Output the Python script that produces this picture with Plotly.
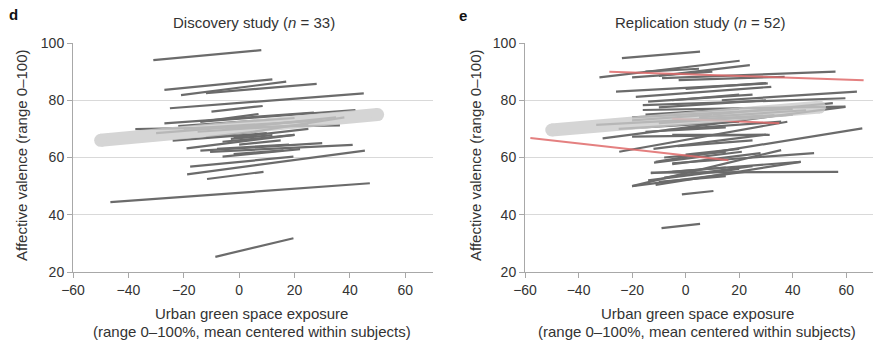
import plotly.graph_objects as go

# ---- Data (x0, y0, x1, y1) per subject regression line ----
disc_x0 = [-31, -27, -21, -12, -25, -10, -14, -27, -14, -37.5, -30, -24, -19, -6, -3, -14, -10.5,
           -6, -2, -17.7, -18.8, -11.6, -46.5, -8.6, -20, -5, -15, 0, -8, -2, -22, 5, -12]
disc_y0 = [94, 83.6, 81.8, 82.5, 77.2, 76, 72.5, 71.9, 72.5, 69.9, 68.5, 65.9, 63.2, 65.5, 66.5, 62.4, 62,
           60.3, 61.2, 56.8, 54.1, 52.5, 44.4, 25.3, 70, 70, 69, 64.5, 63, 67, 71, 69, 67]
disc_x1 = [8, 12, 17, 28, 45, 8.5, 7, 27, 42, 36.4, 29, 10, 20, 20, 12, 30, 41,
           22, 16, 19.6, 45.4, 8.8, 47.2, 19.6, 30, 35, 25, 15, 18, 25, 20, 38, 5]
disc_y1 = [97.5, 87.3, 86.5, 85.7, 82.4, 78, 75.2, 75.7, 76.6, 71.2, 73.1, 68.5, 67.9, 67.9, 67.8, 65, 64.4,
           62.9, 62.5, 60.3, 62.4, 55, 51, 31.8, 73, 74, 71.5, 66, 64.5, 70, 73.8, 74, 69]
disc_mean = [-50, 66, 50, 75]

rep_x0 = [-23.8, -32.2, -10, -8.8, -2.6, -20, -26, -18.6, 13.5, -16, -16, -14, -10, -15, -31, -11.2, -24.8,
          -20, -20, -33.4, -7.5, -5, -5, -13, -20, -13, -20, -11.2, -5, -11.8, -1.4, -9, -14, -8, -5,
          -12, -25, -10, 5, -5, -20, -3, 0, -8, 0, -15, 10, -10, -15]
rep_y0 = [94.7, 88, 88.5, 87.7, 87, 88, 83, 81.2, 80, 78.3, 76.6, 79.5, 77.5, 75, 66.7, 58.5, 62,
          74, 67.3, 71.4, 69.6, 67.9, 58, 54.5, 50, 54.7, 50, 50.4, 57.7, 58.2, 47.1, 35.3, 52, 53, 55,
          63, 70, 72, 74, 80, 73, 64, 61, 60, 84, 90, 75, 51.5, 69]
rep_x1 = [5.4, 20.2, 24, 56, 37, 10, 30.7, 32, 64, 59.7, 59.7, 25, 30, 20, 59.7, 66, 38,
          40, 31.4, 33.2, 35.7, 30.7, 48, 43, 22, 57, 35.7, 43, 28, 21, 10.4, 5.4, 20, 25, 15,
          30, 20, 40, 45, 20, 10, 25, 20, 15, 30, 5, 55, 15, 15]
rep_y1 = [97, 93.8, 92.3, 90, 88.2, 90, 85.9, 84.7, 83, 80.7, 77.8, 82, 80, 77, 77.7, 70.2, 72.5,
          77, 67.9, 74.8, 72.5, 67.9, 61.5, 58.5, 55, 55, 62.6, 58.5, 61.5, 62, 48.3, 36.8, 56, 57, 56.5,
          68, 72.5, 75, 76.5, 82, 75, 66, 63, 62, 86, 91, 79, 53.5, 70.5]
rep_red_x0 = [-28.5, -58, -5]
rep_red_y0 = [90, 66.8, 73.5]
rep_red_x1 = [66.5, 16, 35]
rep_red_y1 = [87, 59, 72]
rep_mean = [-50, 69.6, 50, 77.6]

x_ticks = [-60, -40, -20, 0, 20, 40, 60]
y_ticks = [20, 40, 60, 80, 100]

GREY = "#6b6b6b"
RED = "#e06a6a"
MEAN = "#cbcbcb"

W, H = 873, 342

def px(x):
    return x / W

def py(y):
    return 1 - y / H

fig = go.Figure()

def add_lines(xa, ya, x0, y0, x1, y1, color, width, opacity=1.0):
    xs, ys = [], []
    for a, b, c, d in zip(x0, y0, x1, y1):
        xs += [a, c, None]
        ys += [b, d, None]
    fig.add_trace(go.Scatter(x=xs, y=ys, mode="lines", xaxis=xa, yaxis=ya,
                             line=dict(color=color, width=width), opacity=opacity,
                             showlegend=False, hoverinfo="skip"))

def add_mean(xa, ya, m):
    fig.add_trace(go.Scatter(x=[m[0], m[2]], y=[m[1], m[3]], mode="lines+markers",
                             xaxis=xa, yaxis=ya,
                             line=dict(color=MEAN, width=13),
                             marker=dict(color=MEAN, size=13, line=dict(width=0)),
                             opacity=0.8, showlegend=False, hoverinfo="skip"))

add_lines("x", "y", disc_x0, disc_y0, disc_x1, disc_y1, GREY, 2.2)
add_mean("x", "y", disc_mean)

add_lines("x2", "y2", rep_x0, rep_y0, rep_x1, rep_y1, GREY, 2.2)
add_lines("x2", "y2", rep_red_x0, rep_red_y0, rep_red_x1, rep_red_y1, RED, 2, 0.85)
add_mean("x2", "y2", rep_mean)

FONT = "Liberation Sans, Arial, sans-serif"
ydom = [py(272), py(43)]

xcommon = dict(range=[-60, 70], tickvals=x_ticks,
               ticktext=[("\u2212" + str(-v)) if v < 0 else str(v) for v in x_ticks],
               showgrid=False, zeroline=False, showline=True, linecolor="#a8a8a8", linewidth=1,
               ticks="outside", ticklen=5, tickcolor="#a8a8a8", automargin=False,
               tickfont=dict(family=FONT, size=14, color="#333"))
ycommon = dict(range=[20, 100], tickvals=y_ticks, domain=ydom,
               showgrid=True, gridcolor="#d9d9d9", gridwidth=1, zeroline=False,
               showline=True, linecolor="#a8a8a8", linewidth=1, automargin=False,
               ticks="outside", ticklen=5, tickcolor="#a8a8a8",
               tickfont=dict(family=FONT, size=14, color="#333"))

fig.update_layout(
    width=W, height=H, margin=dict(l=0, r=0, t=0, b=0),
    paper_bgcolor="white", plot_bgcolor="white",
    xaxis=dict(domain=[px(73), px(433)], anchor="y", **xcommon),
    yaxis=dict(anchor="x", **ycommon),
    xaxis2=dict(domain=[px(525), 1.0], anchor="y2", **xcommon),
    yaxis2=dict(anchor="x2", **ycommon),
)

def ann(x, y, text, size=15, angle=0, color="#333", xanchor="center", yanchor="middle"):
    fig.add_annotation(x=px(x), y=py(y), xref="paper", yref="paper", text=text,
                       showarrow=False, textangle=angle, xanchor=xanchor, yanchor=yanchor,
                       font=dict(family=FONT, size=size, color=color))

ann(254, 22, "Discovery study (<i>n</i> = 33)")
ann(700, 22, "Replication study (<i>n</i> = 52)")
ann(13, 14, "<b>d</b>", size=15, color="#111")
ann(463, 15, "<b>e</b>", size=15, color="#111")
ann(21, 155, "Affective valence (range 0\u2013100)", size=15, angle=-90)
ann(475, 155, "Affective valence (range 0\u2013100)", size=15, angle=-90)
for cx in (252, 697):
    ann(cx, 313, "Urban green space exposure")
    ann(cx, 331, "(range 0\u2013100%, mean centered within subjects)")

fig.write_html("out.html")
